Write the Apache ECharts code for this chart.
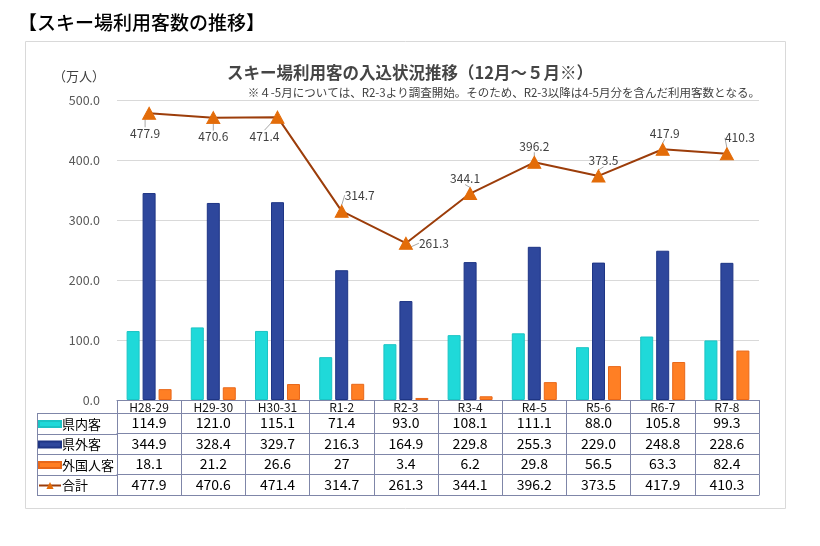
<!DOCTYPE html>
<html>
<head>
<meta charset="utf-8">
<script src="https://cdn.jsdelivr.net/npm/echarts@6/dist/echarts.min.js"></script>
<style>
html,body{margin:0;padding:0;background:#fff;}
#main{width:820px;height:546px;}
</style>
</head>
<body>
<div id="main"></div>
<script>
// ---- data ----
const categories = ['H28-29','H29-30','H30-31','R1-2','R2-3','R3-4','R4-5','R5-6','R6-7','R7-8'];
const kennai   = [114.9, 121.0, 115.1, 71.4, 93.0, 108.1, 111.1, 88.0, 105.8, 99.3];
const kengai   = [344.9, 328.4, 329.7, 216.3, 164.9, 229.8, 255.3, 229.0, 248.8, 228.6];
const gaikoku  = [18.1, 21.2, 26.6, 27, 3.4, 6.2, 29.8, 56.5, 63.3, 82.4];
const total    = [477.9, 470.6, 471.4, 314.7, 261.3, 344.1, 396.2, 373.5, 417.9, 410.3];
const seriesNames = ['県内客','県外客','外国人客','合計'];
// table text as shown (外国人客 "27" is printed without decimal)
const kennaiText  = ['114.9','121.0','115.1','71.4','93.0','108.1','111.1','88.0','105.8','99.3'];
const kengaiText  = ['344.9','328.4','329.7','216.3','164.9','229.8','255.3','229.0','248.8','228.6'];
const gaikokuText = ['18.1','21.2','26.6','27','3.4','6.2','29.8','56.5','63.3','82.4'];
const totalText   = ['477.9','470.6','471.4','314.7','261.3','344.1','396.2','373.5','417.9','410.3'];
const yTicks = {min: 0, max: 500, interval: 100};

// ---- layout / style ----
const FONT = '"Noto Sans CJK JP", "Noto Sans", sans-serif';
const W = 820, H = 546;
const GRID = {left: 117, right: 61, top: 100, bottom: 146};
const axisY = H - GRID.bottom;
const headerH = 13, rowH = 20.5;
const tableLeft = 37;
const tableColor = '#7f86a8';
const colors = ['#1fd9d9', '#2e479c', '#ff7f24', '#9c3d0a'];
const borders = ['#1bc4c4', '#1e3585', '#e8681a'];
// label offsets for total line labels [dx, dy] relative to marker
const labelOffsets = [[-4,20],[0,19],[-13,19],[18,-16],[28,0],[-5,-15],[0,-16],[5,-15],[2,-16],[13,-16]];

const rowTexts = [kennaiText, kengaiText, gaikokuText, totalText];

const xAxes = [{
  type: 'category', data: categories, gridIndex: 0, position: 'bottom',
  axisLine: {show: true, lineStyle: {color: tableColor, width: 1}},
  axisTick: {show: true, length: headerH, lineStyle: {color: tableColor}},
  axisLabel: {interval: 0, margin: 1, fontSize: 12, color: '#111', fontFamily: FONT},
  splitLine: {show: false}
}];
rowTexts.forEach((txt, i) => {
  xAxes.push({
    type: 'category', data: categories, gridIndex: 0, position: 'bottom',
    offset: headerH + rowH * i,
    axisLine: {show: true, lineStyle: {color: tableColor, width: 1}},
    axisTick: {show: true, length: rowH, lineStyle: {color: tableColor}},
    axisLabel: {interval: 0, margin: 3, fontSize: 14, color: '#000', fontFamily: FONT,
      formatter: (v, idx) => txt[idx]},
    axisPointer: {show: false},
    splitLine: {show: false}
  });
});
xAxes.push({
  type: 'category', data: categories, gridIndex: 0, position: 'bottom',
  offset: headerH + rowH * 4,
  axisLine: {show: true, lineStyle: {color: tableColor, width: 1}},
  axisTick: {show: false}, axisLabel: {show: false}, splitLine: {show: false}
});

// left column of the table (legend cells)
const graphics = [{
  type: 'rect', shape: {x: 25.5, y: 41.5, width: 760, height: 467},
  style: {fill: 'none', stroke: '#d9d9d9', lineWidth: 1}, silent: true, z: -1
}];
for (let k = 0; k <= 4; k++) {
  const y = Math.round(axisY + headerH + rowH * k) + 0.5;
  graphics.push({type: 'line', shape: {x1: tableLeft, y1: y, x2: GRID.left, y2: y},
    style: {stroke: tableColor, lineWidth: 1}, silent: true});
}
graphics.push({type: 'line',
  shape: {x1: tableLeft + 0.5, y1: axisY + headerH, x2: tableLeft + 0.5, y2: axisY + headerH + rowH * 4},
  style: {stroke: tableColor, lineWidth: 1}, silent: true});

const legends = seriesNames.map((name, i) => ({
  data: [name], orient: 'horizontal', left: tableLeft - 1,
  top: axisY + headerH + rowH * i + 2.5,
  itemWidth: 22, itemHeight: i === 3 ? 9 : 6, itemGap: 2,
  padding: 2, selectedMode: false,
  textStyle: {fontSize: 13, color: '#000', fontFamily: FONT, padding: [0, 0, 0, -4]},
  icon: i === 3 ? undefined : 'rect'
}));

const barSeries = [kennai, kengai, gaikoku].map((d, i) => ({
  name: seriesNames[i], type: 'bar', data: d, barWidth: 13, barGap: '23%',
  itemStyle: {color: colors[i], borderColor: borders[i], borderWidth: 1},
  z: 2
}));

const option = {
  animation: false,
  textStyle: {fontFamily: FONT},
  title: [{
    text: '【スキー場利用客数の推移】', left: 13, top: 8,
    textStyle: {fontSize: 19, fontWeight: 500, color: '#000', fontFamily: FONT}
  }, {
    text: 'スキー場利用客の入込状況推移（12月～５月※）', left: 'center', top: 59,
    textStyle: {fontSize: 16.5, fontWeight: 'bold', color: '#454545', fontFamily: FONT}
  }, {
    text: '※４-5月については、R2-3より調査開始。そのため、R2-3以降は4-5月分を含んだ利用客数となる。',
    right: 55, top: 82,
    textStyle: {fontSize: 11.5, fontWeight: 'normal', color: '#404040', fontFamily: FONT}
  }],
  legend: legends,
  grid: {left: GRID.left, right: GRID.right, top: GRID.top, bottom: GRID.bottom, containLabel: false},
  xAxis: xAxes,
  yAxis: {
    type: 'value', min: yTicks.min, max: yTicks.max, interval: yTicks.interval,
    name: '（万人）', nameLocation: 'end', nameGap: 17,
    nameTextStyle: {align: 'right', verticalAlign: 'bottom', padding: [0, 12, 0, 0], fontSize: 13, color: '#404040', fontFamily: FONT},
    axisLine: {show: false}, axisTick: {show: false},
    axisLabel: {margin: 17, fontSize: 12.5, color: '#595959', fontFamily: FONT, formatter: v => v.toFixed(1)},
    splitLine: {lineStyle: {color: '#d9d9d9', width: 1}}
  },
  graphic: graphics,
  series: barSeries.concat([{
    name: seriesNames[3], type: 'line', data: total, xAxisIndex: 0,
    symbol: 'triangle', symbolSize: [13, 12],
    lineStyle: {color: colors[3], width: 2},
    itemStyle: {color: '#e36c09', borderColor: '#e36c09'},
    label: {show: true, position: 'top', fontSize: 12, color: '#404040', fontFamily: FONT,
      formatter: p => p.value.toFixed(1)},
    labelLine: {show: true, length2: 0, lineStyle: {color: '#a6a6a6', width: 1}},
    labelLayout: p => {
      const o = labelOffsets[p.dataIndex];
      return {x: p.rect.x + p.rect.width / 2 + o[0], y: p.rect.y + p.rect.height / 2 + o[1],
        align: 'center', verticalAlign: 'middle'};
    },
    z: 5
  }])
};

const chart = echarts.init(document.getElementById('main'), null, {renderer: 'canvas'});
chart.setOption(option);
</script>
</body>
</html>
